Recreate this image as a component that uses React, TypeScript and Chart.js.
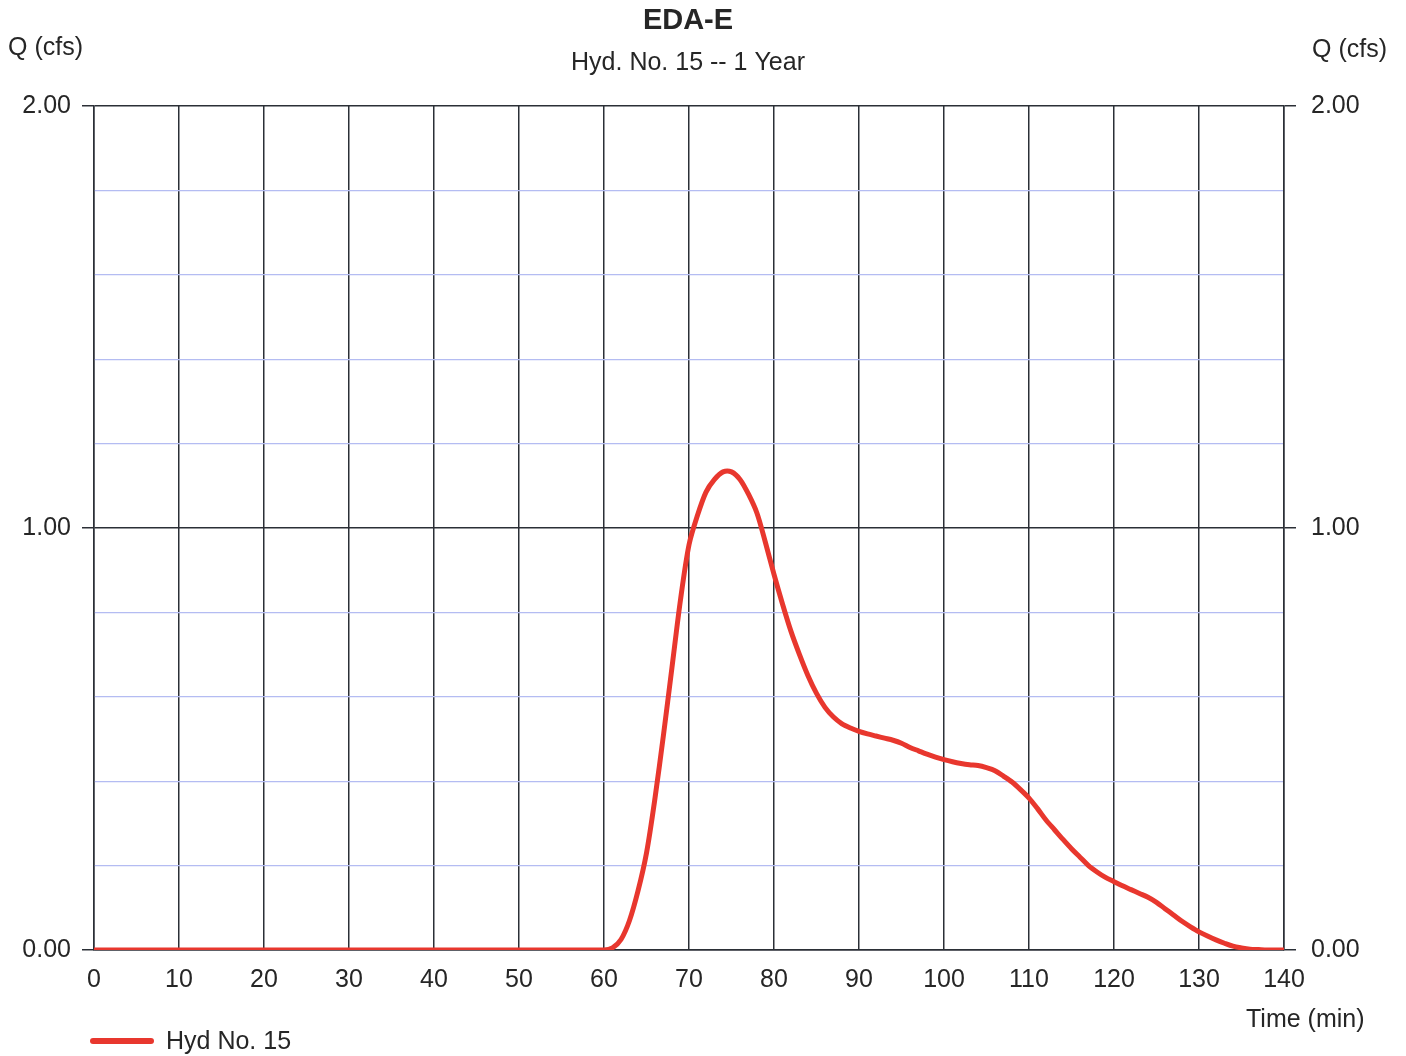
import React, { useEffect, useRef } from "react";
import { Chart, registerables } from "chart.js";

Chart.register(...registerables);

const chartTitle = "EDA-E";
const chartSubtitle = "Hyd. No. 15 -- 1 Year";
const yAxisLabel = "Q (cfs)";
const xAxisLabel = "Time (min)";
const seriesName = "Hyd No. 15";

const timeMin = [
  0, 60, 61, 62, 63, 64, 65, 66, 67, 68, 69, 70, 71, 72, 73, 74, 75, 76, 77, 78, 79,
  80, 81, 82, 83, 84, 85, 86, 87, 88, 89, 90, 91, 92, 93, 94, 95, 96, 97, 98, 99,
  100, 101, 102, 103, 104, 105, 106, 107, 108, 109, 110, 111, 112, 113, 114, 115, 116, 117, 118, 119,
  120, 121, 122, 123, 124, 125, 126, 127, 128, 129, 130, 131, 132, 133, 134, 135, 136, 137, 138, 139, 140,
];
const flowCfs = [
  0, 0, 0.005, 0.025, 0.07, 0.14, 0.23, 0.36, 0.51, 0.67, 0.83, 0.96, 1.03, 1.085, 1.115, 1.133, 1.133, 1.115, 1.08, 1.035, 0.965,
  0.89, 0.82, 0.755, 0.7, 0.65, 0.608, 0.575, 0.552, 0.536, 0.526, 0.518, 0.512, 0.507, 0.502, 0.497, 0.49, 0.48, 0.472, 0.464, 0.457,
  0.451, 0.446, 0.442, 0.439, 0.437, 0.432, 0.425, 0.412, 0.398, 0.38, 0.36, 0.335, 0.308, 0.285, 0.262, 0.24, 0.22, 0.2, 0.185, 0.172,
  0.162, 0.152, 0.143, 0.134, 0.125, 0.113, 0.098, 0.083, 0.068, 0.055, 0.043, 0.033, 0.024, 0.016, 0.009, 0.005, 0.002, 0.001, 0, 0, 0,
];
const majorYTicks = [0, 1, 2];

const FONT = "'Liberation Sans', Arial, sans-serif";
const TEXT = "#262626";
const DARK = "#2b2f36";
const MINOR = "#b4bcf2";
const RED = "#e8372e";

function isMajor(v: number) {
  return majorYTicks.some((m) => Math.abs(m - v) < 1e-6);
}

const textPlugin = {
  id: "customText",
  afterDraw(chart: any) {
    const ctx = chart.ctx;
    const area = chart.chartArea;
    const cx = (area.left + area.right) / 2;
    ctx.save();
    ctx.fillStyle = TEXT;
    ctx.textBaseline = "middle";
    ctx.textAlign = "center";
    ctx.font = `bold 29px ${FONT}`;
    ctx.fillText(chartTitle, cx - 1, 21);
    ctx.font = `25px ${FONT}`;
    ctx.fillText(chartSubtitle, cx - 1, 63);
    ctx.textAlign = "left";
    ctx.fillText(yAxisLabel, 8, 48);
    ctx.fillText(yAxisLabel, 1312, 50);
    ctx.fillText(xAxisLabel, 1246, 1020);
    ctx.fillText(seriesName, 166, 1042);
    ctx.strokeStyle = RED;
    ctx.lineWidth = 6;
    ctx.lineCap = "round";
    ctx.beginPath();
    ctx.moveTo(93, 1041);
    ctx.lineTo(151, 1041);
    ctx.stroke();
    ctx.restore();
  },
};

export default function App() {
  const ref = useRef<HTMLCanvasElement | null>(null);
  useEffect(() => {
    if (!ref.current) return;
    const points = timeMin.map((t, i) => ({ x: t, y: flowCfs[i] }));
    const yGrid = {
      color: (c: any) => (isMajor(c.tick?.value ?? 0) ? DARK : MINOR),
      lineWidth: (c: any) => (isMajor(c.tick?.value ?? 0) ? 1.5 : 1.2),
      tickColor: (c: any) => (isMajor(c.tick?.value ?? 0) ? DARK : "rgba(0,0,0,0)"),
      tickLength: 12,
      drawTicks: true,
    };
    const yTicks = {
      stepSize: 0.2,
      color: TEXT,
      font: { family: FONT, size: 25 },
      callback: (v: any) => (isMajor(Number(v)) ? Number(v).toFixed(2) : ""),
      autoSkip: false,
    };
    const chart = new Chart(ref.current, {
      type: "line",
      data: {
        datasets: [
          {
            label: seriesName,
            data: points,
            borderColor: RED,
            backgroundColor: RED,
            borderWidth: 5,
            pointRadius: 0,
            tension: 0.3,
            fill: false,
          },
        ],
      },
      plugins: [textPlugin],
      options: {
        animation: false,
        responsive: false,
        maintainAspectRatio: false,
        layout: { padding: { left: 0, right: 0, top: 106, bottom: 0 } },
        plugins: {
          legend: { display: false },
          title: { display: false },
          tooltip: { enabled: false },
        },
        scales: {
          x: {
            type: "linear",
            min: 0,
            max: 140,
            border: { color: DARK, width: 1.5 },
            grid: { color: DARK, lineWidth: 1.5, drawTicks: false },
            ticks: {
              stepSize: 10,
              color: TEXT,
              font: { family: FONT, size: 25 },
              padding: 15,
              maxRotation: 0,
            },
            afterFit: (s: any) => {
              s.height = 106;
            },
          },
          y: {
            position: "left",
            min: 0,
            max: 2,
            border: { color: DARK, width: 1.5 },
            grid: yGrid,
            ticks: { ...yTicks, padding: 11 },
            afterFit: (s: any) => {
              s.width = 94;
            },
          },
          y2: {
            position: "right",
            min: 0,
            max: 2,
            border: { color: DARK, width: 1.5 },
            grid: { ...yGrid, drawOnChartArea: false },
            ticks: { ...yTicks, padding: 15 },
            afterFit: (s: any) => {
              s.width = 122;
            },
          },
        },
      },
    } as any);
    return () => chart.destroy();
  }, []);
  return (
    <div style={{ position: "absolute", left: 0, top: 0, width: 1406, height: 1056, background: "#fff" }}>
      <canvas ref={ref} width={1406} height={1056} style={{ width: 1406, height: 1056 }} />
    </div>
  );
}
